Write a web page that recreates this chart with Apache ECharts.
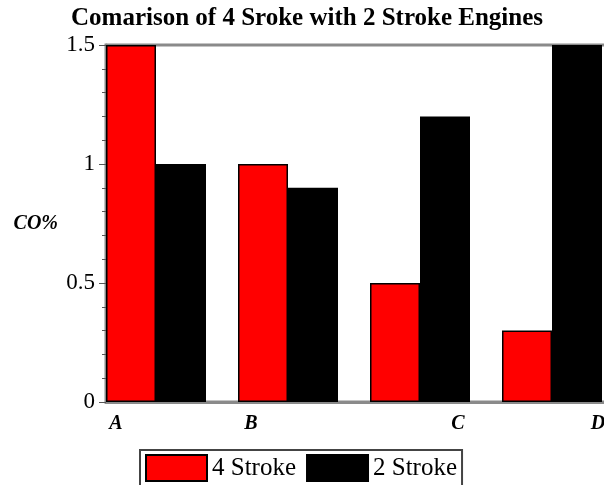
<!DOCTYPE html>
<html>
<head>
<meta charset="utf-8">
<script src="https://cdn.jsdelivr.net/npm/echarts@6/dist/echarts.min.js"></script>
<style>
  html, body { margin: 0; padding: 0; background: #fff; }
  #main { width: 604px; height: 485px; }
</style>
</head>
<body>
<div id="main"></div>
<script>
// data
const categories = ["A", "B", "C", "D"];
const fourStroke = [1.5, 1.0, 0.5, 0.3];
const twoStroke = [1.0, 0.9, 1.2, 1.5];
const yTicks = { min: 0, max: 1.5, interval: 0.5 };

const serif = "'Liberation Serif', 'DejaVu Serif', serif";
const axisGray = "#8a8a8a";

const myChart = echarts.init(document.getElementById("main"));
myChart.setOption({
  animation: false,
  title: {
    text: "Comarison of 4 Sroke with 2 Stroke Engines",
    left: 66,
    top: 1,
    textStyle: { fontFamily: serif, fontSize: 25, fontWeight: "bold", color: "#000" },
  },
  grid: {
    left: 106,
    top: 45,
    width: 528,
    height: 357,
    outerBoundsMode: "none",
    show: true,
    borderColor: axisGray,
    borderWidth: 3,
  },
  legend: {
    data: ["4 Stroke", "2 Stroke"],
    left: 140,
    top: 450,
    padding: [4, 5, 4, 5],
    icon: "rect",
    itemWidth: 61,
    itemHeight: 26,
    itemGap: 10,
    borderColor: "#444",
    borderWidth: 2,
    textStyle: { fontFamily: serif, fontSize: 25, color: "#000" },
  },
  xAxis: {
    type: "category",
    data: categories,
    axisTick: { show: false },
    axisLine: { lineStyle: { color: axisGray, width: 3 } },
    axisLabel: {
      margin: 12,
      fontFamily: serif,
      fontSize: 20,
      fontStyle: "italic",
      fontWeight: "bold",
      color: "#000",
      // Maple puts the labels off-centre, shift each one with padding
      formatter: (v) => "{" + v.toLowerCase() + "|" + v + "}",
      rich: {
        a: { padding: [0, 112, 0, 0] },
        b: { padding: [0, 106, 0, 0] },
        c: { padding: [0, 0, 0, 44] },
        d: { padding: [0, 0, 0, 60] },
      },
    },
  },
  yAxis: {
    type: "value",
    min: yTicks.min,
    max: yTicks.max,
    interval: yTicks.interval,
    name: "CO%",
    nameLocation: "middle",
    nameRotate: 0,
    nameGap: 48,
    nameTextStyle: { fontFamily: serif, fontSize: 20, fontStyle: "italic", fontWeight: "bold", color: "#000" },
    splitLine: { show: false },
    axisLine: { show: true, lineStyle: { color: axisGray, width: 3 } },
    axisTick: { show: true, length: 7, lineStyle: { color: "#555" } },
    minorTick: { show: true, splitNumber: 5, length: 4, lineStyle: { color: "#555" } },
    axisLabel: {
      margin: 11,
      fontFamily: serif,
      fontSize: 23,
      color: "#000",
      formatter: (v) => String(v),
    },
  },
  series: [
    {
      name: "4 Stroke",
      type: "bar",
      data: fourStroke,
      barWidth: 50,
      barGap: 0,
      itemStyle: { color: "#ff0000", borderColor: "#000", borderWidth: 1.5 },
    },
    {
      name: "2 Stroke",
      type: "bar",
      data: twoStroke,
      barWidth: 50,
      barGap: 0,
      itemStyle: { color: "#000", borderColor: "#000", borderWidth: 1.5 },
    },
    {
      // empty spacer so the pair sits at the left of each band
      name: "spacer",
      type: "bar",
      data: [],
      barWidth: 32,
      barGap: 0,
    },
  ],
});
</script>
</body>
</html>
